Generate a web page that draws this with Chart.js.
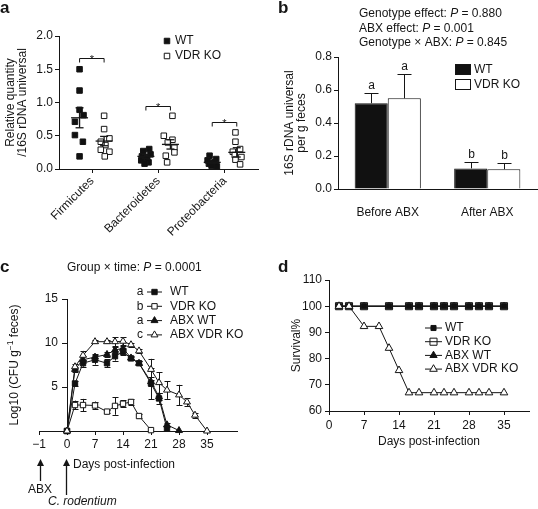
<!DOCTYPE html>
<html>
<head>
<meta charset="utf-8">
<title>Figure</title>
<script src="https://cdn.jsdelivr.net/npm/chart.js@4.4.1/dist/chart.umd.min.js"></script>
<style>
html,body{margin:0;padding:0;background:#fff;}
#wrap{position:relative;width:538px;height:509px;overflow:hidden;background:#fff;}
#wrap canvas{position:absolute;display:block;}
</style>
</head>
<body>
<div id="wrap">
<canvas id="ca" width="269" height="250" style="left:0;top:0"></canvas>
<canvas id="cb" width="269" height="250" style="left:269px;top:0"></canvas>
<canvas id="cc" width="269" height="259" style="left:0;top:250px"></canvas>
<canvas id="cd" width="269" height="259" style="left:269px;top:250px"></canvas>
</div>
<script>
// ================= DATA =================
// ---- Panel a : relative quantity / 16S rDNA universal ----
const taxa = ['Firmicutes', 'Bacteroidetes', 'Proteobacteria'];
const aWT = [
  [1.50, 1.18, 0.89, 0.81, 0.71, 0.51, 0.41, 0.19],
  [0.30, 0.27, 0.22, 0.19, 0.16, 0.13, 0.10, 0.08],
  [0.20, 0.15, 0.13, 0.10, 0.08, 0.06, 0.05, 0.04]
];
const aWTjitter = [
  [0, 0, 0, 0.06, -0.07, -0.07, 0.05, 0],
  [0.05, -0.04, 0.07, -0.06, 0.02, -0.07, 0.04, -0.02],
  [-0.04, 0.06, -0.07, 0.03, -0.05, 0.05, -0.01, 0.07]
];
const aKO = [
  [0.80, 0.60, 0.46, 0.41, 0.36, 0.29, 0.26, 0.19],
  [0.80, 0.50, 0.44, 0.40, 0.32, 0.25, 0.20, 0.10],
  [0.55, 0.41, 0.30, 0.26, 0.21, 0.18, 0.14, 0.07]
];
const aKOjitter = [
  [0, 0, 0.08, -0.05, 0.02, -0.05, 0.08, 0.01],
  [0.03, -0.1, 0.03, -0.04, 0.06, 0.06, -0.07, -0.05],
  [-0.02, -0.02, 0.05, -0.06, -0.03, 0.07, -0.02, 0.05]
];
const aMeanWT = [0.77, 0.19, 0.10];
const aSemWT = [0.15, 0.03, 0.02];
const aMeanKO = [0.42, 0.37, 0.25];
const aSemKO = [0.07, 0.07, 0.07];
const aSigY = [1.67, 0.94, 0.70];
const aYTicks = [0, 0.5, 1.0, 1.5, 2.0];

// ---- Panel b : 16S rDNA universal per g feces ----
const bGroups = ['Before ABX', 'After ABX'];
const bWT = [0.52, 0.125];
const bWTerr = [0.06, 0.04];
const bKO = [0.55, 0.12];
const bKOerr = [0.15, 0.035];
const bWTletters = ['a', 'b'];
const bKOletters = ['a', 'b'];
const bStats = [['Genotype effect: ', '0.880'], ['ABX effect: ', '0.001'], ['Genotype \u00d7 ABX: ', '0.845']];
const bYTicks = [0, 0.2, 0.4, 0.6, 0.8];

// ---- Panel c : Log10 CFU per g feces ----
const cDayTicks = [-7, 0, 7, 14, 21, 28, 35];          // -7 is the broken-axis slot of day -1
const cDayTickLabels = ['\u22121', '0', '7', '14', '21', '28', '35'];
const cYTicks = [5, 10, 15];
const cDaysWT = [0, 2, 4, 7, 10, 12, 14, 16, 18, 21, 23, 25];
const cWT = [0, 5.4, 7.7, 8.1, 7.7, 8.5, 9.0, 8.25, 7.7, 5.4, 3.7, 0.25];
const cWTerr = [0, 0.3, 0.4, 0.55, 0.45, 0.5, 0.4, 0.2, 0.2, 1.8, 0.6, 0];
const cDaysKO = [0, 2, 4, 7, 10, 12, 14, 16, 18, 21];
const cKO = [0, 2.95, 2.95, 2.9, 2.2, 2.85, 3.1, 3.3, 1.7, 0.1];
const cKOerr = [0, 0.5, 0.7, 0.45, 0.2, 1.0, 0.4, 0.3, 0.2, 0];
const cDaysAbxWT = [0, 2, 4, 7, 10, 12, 14, 16, 18, 21, 23, 25, 28];
const cAbxWT = [0, 7.0, 8.1, 8.4, 8.7, 9.2, 9.4, 8.3, 7.7, 5.6, 3.9, 0.7, 0.05];
const cAbxWTerr = [0, 0.3, 0.4, 0.3, 0.3, 0.3, 0.3, 0.2, 0.2, 0.5, 0.4, 0.2, 0];
const cDaysAbxKO = [0, 2, 4, 7, 10, 12, 14, 16, 18, 21, 23, 25, 28, 30, 32, 35];
const cAbxKO = [0, 7.3, 8.6, 10.15, 10.15, 10.15, 10.2, 9.8, 9.1, 7.0, 5.5, 4.65, 4.1, 3.3, 1.8, 0];
const cAbxKOerr = [0, 0.3, 0.5, 0.2, 0.2, 0.5, 0.45, 0.2, 0.2, 1.2, 1.2, 1.0, 1.15, 0.45, 0.3, 0];
const cLetters = ['a', 'b', 'a', 'c'];

// ---- Panel d : survival ----
const dDayTicks = [0, 7, 14, 21, 28, 35];
const dYTicks = [60, 70, 80, 90, 100, 110];
const dDays = [2, 4, 7, 12, 16, 18, 21, 23, 25, 28, 30, 32, 35];
const dWT = [100, 100, 100, 100, 100, 100, 100, 100, 100, 100, 100, 100, 100];
const dKO = [100, 100, 100, 100, 100, 100, 100, 100, 100, 100, 100, 100, 100];
const dAbxWT = [100, 100, 100, 100, 100, 100, 100, 100, 100, 100, 100, 100, 100];
const dDaysAbxKO = [2, 4, 7, 10, 12, 14, 16, 18, 21, 23, 25, 28, 30, 32, 35];
const dAbxKO = [100, 100, 92.3, 92.3, 84, 75.5, 67, 67, 67, 67, 67, 67, 67, 67, 67];

const seriesNames = ['WT', 'VDR KO', 'ABX WT', 'ABX VDR KO'];

// ================= STYLE / HELPERS =================
const FONT = "'Liberation Sans', Arial, Helvetica, sans-serif";
const INK = '#151515';
Chart.defaults.font.family = FONT;
Chart.defaults.font.size = 12;
Chart.defaults.color = INK;
Chart.defaults.borderColor = INK;
Chart.defaults.animation = false;
Chart.defaults.responsive = false;
Chart.defaults.events = [];
Chart.defaults.plugins.legend.display = false;
Chart.defaults.plugins.tooltip.enabled = false;

function fontStr(size, italic, bold) {
  return (italic ? 'italic ' : '') + (bold ? 'bold ' : '') + size + 'px ' + FONT;
}
function txt(ctx, s, x, y, o) {
  o = o || {};
  ctx.save();
  ctx.font = fontStr(o.size || 12, o.italic, o.bold);
  ctx.fillStyle = INK;
  ctx.textAlign = o.align || 'left';
  ctx.textBaseline = o.baseline || 'middle';
  ctx.fillText(s, x, y);
  ctx.restore();
}
// parts: [[text, italic], ...] drawn left to right starting at x
function runs(ctx, parts, x, y, align) {
  ctx.save();
  ctx.fillStyle = INK;
  ctx.textBaseline = 'middle';
  ctx.textAlign = 'left';
  let total = 0;
  parts.forEach(p => { ctx.font = fontStr(12, p[1]); total += ctx.measureText(p[0]).width; });
  let cx = align === 'center' ? x - total / 2 : x;
  parts.forEach(p => { ctx.font = fontStr(12, p[1]); ctx.fillText(p[0], cx, y); cx += ctx.measureText(p[0]).width; });
  ctx.restore();
}
function seg(ctx, x1, y1, x2, y2) {
  ctx.beginPath(); ctx.moveTo(x1, y1); ctx.lineTo(x2, y2); ctx.stroke();
}
function marker(ctx, style, x, y, r, fill) {
  ctx.save();
  ctx.beginPath();
  if (style === 'rect') {
    const s = r * Math.SQRT1_2;
    ctx.rect(x - s, y - s, 2 * s, 2 * s);
  } else {
    for (let k = 0; k < 3; k++) {
      const a = k * 2 * Math.PI / 3;
      const px = x + Math.sin(a) * r, py = y - Math.cos(a) * r;
      if (k) ctx.lineTo(px, py); else ctx.moveTo(px, py);
    }
    ctx.closePath();
  }
  ctx.fillStyle = fill; ctx.fill();
  ctx.strokeStyle = INK; ctx.lineWidth = 1; ctx.stroke();
  ctx.restore();
}
function panelLetter(ctx, s, x, y) {
  txt(ctx, s, x, y, { size: 17, bold: true, baseline: 'alphabetic' });
}
const gridStyle = (len) => ({ drawOnChartArea: false, color: INK, tickColor: INK, tickLength: len, lineWidth: 1 });
const borderStyle = { color: INK, width: 1 };
const setTicks = (arr) => (s) => { s.ticks = arr.map(v => ({ value: v })); };

// ================= PANEL a =================
const A_WT_OFF = -0.19, A_KO_OFF = 0.18;
function scatterPoints(groups, jit, off) {
  const pts = [];
  groups.forEach((vals, i) => vals.forEach((v, j) => pts.push({ x: i + off + jit[i][j], y: v })));
  return pts;
}
const aPlugin = {
  id: 'aExtras',
  afterDatasetsDraw(chart) {
    const { ctx, scales: { x, y } } = chart;
    ctx.save();
    ctx.strokeStyle = INK;
    ctx.lineWidth = 1.3;
    [[aMeanWT, aSemWT, A_WT_OFF], [aMeanKO, aSemKO, A_KO_OFF]].forEach(([m, s, off]) => {
      m.forEach((v, i) => {
        const cx = x.getPixelForValue(i + off);
        const ym = y.getPixelForValue(v), yt = y.getPixelForValue(v + s[i]), yb = y.getPixelForValue(v - s[i]);
        seg(ctx, cx - 8.5, ym, cx + 8.5, ym);
        seg(ctx, cx, yt, cx, yb);
        seg(ctx, cx - 4, yt, cx + 4, yt);
        seg(ctx, cx - 4, yb, cx + 4, yb);
      });
    });
    ctx.lineWidth = 1;
    aSigY.forEach((v, i) => {
      const x1 = x.getPixelForValue(i + A_WT_OFF), x2 = x.getPixelForValue(i + A_KO_OFF);
      const yy = Math.round(y.getPixelForValue(v)) + 0.5;
      ctx.beginPath(); ctx.moveTo(x1, yy + 4); ctx.lineTo(x1, yy); ctx.lineTo(x2, yy); ctx.lineTo(x2, yy + 4); ctx.stroke();
      txt(ctx, '*', (x1 + x2) / 2, yy + 4, { align: 'center', baseline: 'alphabetic', size: 11 });
    });
    ctx.restore();
  },
  afterDraw(chart) {
    const ctx = chart.ctx;
    marker(ctx, 'rect', 167, 41, 3.9, '#111');
    txt(ctx, seriesNames[0], 175, 41);
    marker(ctx, 'rect', 167, 56, 3.9, '#fff');
    txt(ctx, seriesNames[1], 175, 56);
    panelLetter(ctx, 'a', 0, 13);
  }
};
new Chart(document.getElementById('ca'), {
  type: 'scatter',
  data: {
    datasets: [
      { label: 'WT', data: scatterPoints(aWT, aWTjitter, A_WT_OFF), pointStyle: 'rect', pointRadius: 3.9,
        backgroundColor: '#111', borderColor: INK, borderWidth: 1 },
      { label: 'VDR KO', data: scatterPoints(aKO, aKOjitter, A_KO_OFF), pointStyle: 'rect', pointRadius: 3.9,
        backgroundColor: '#fff', borderColor: INK, borderWidth: 1 }
    ]
  },
  options: {
    layout: { padding: { top: 36, right: 11, left: 0, bottom: 0 } },
    scales: {
      x: {
        type: 'linear', min: -0.5, max: 2.5,
        afterBuildTicks: setTicks(taxa.map((_, i) => i)),
        afterFit: s => { s.height = 81; },
        grid: gridStyle(4), border: borderStyle,
        ticks: { callback: v => taxa[v], minRotation: 45, maxRotation: 45, padding: 1, color: INK }
      },
      y: {
        min: 0, max: 2,
        afterBuildTicks: setTicks(aYTicks),
        afterFit: s => { s.width = 59; },
        grid: gridStyle(4), border: borderStyle,
        ticks: { callback: v => v.toFixed(1), padding: 2, color: INK },
        title: { display: true, text: ['Relative quantity', '/16S rDNA universal'], color: INK,
                 font: { size: 12, lineHeight: 1.05 }, padding: { top: 4, bottom: 0 } }
      }
    }
  },
  plugins: [aPlugin]
});

// ================= PANEL b =================
const bPlugin = {
  id: 'bExtras',
  afterDatasetsDraw(chart) {
    const { ctx, scales: { y } } = chart;
    ctx.save();
    ctx.strokeStyle = INK; ctx.lineWidth = 1;
    [[bWTerr, bWTletters], [bKOerr, bKOletters]].forEach(([errs, letters], di) => {
      const meta = chart.getDatasetMeta(di);
      meta.data.forEach((bar, i) => {
        const v = chart.data.datasets[di].data[i];
        const yt = Math.round(y.getPixelForValue(v + errs[i])) + 0.5;
        const cx = Math.round(bar.x) + 0.5;
        seg(ctx, cx, bar.y, cx, yt);
        seg(ctx, cx - 7, yt, cx + 7, yt);
        txt(ctx, letters[i], cx, yt - 5, { align: 'center', baseline: 'alphabetic' });
      });
    });
    ctx.restore();
  },
  afterDraw(chart) {
    const ctx = chart.ctx;
    ctx.save();
    ctx.strokeStyle = INK; ctx.lineWidth = 1;
    ctx.fillStyle = '#111'; ctx.fillRect(186, 64, 16, 11); ctx.strokeRect(186.5, 64.5, 15, 10);
    ctx.fillStyle = '#fff'; ctx.fillRect(186, 79, 16, 11); ctx.strokeRect(186.5, 79.5, 15, 10);
    ctx.restore();
    txt(ctx, seriesNames[0], 205, 70);
    txt(ctx, seriesNames[1], 205, 85);
    bStats.forEach((p, i) => runs(ctx, [[p[0], false], ['P', true], [' = ' + p[1], false]], 90, 14 + i * 14.5, 'left'));
    panelLetter(ctx, 'b', 9, 13);
  }
};
new Chart(document.getElementById('cb'), {
  type: 'bar',
  data: {
    labels: bGroups,
    datasets: [
      { label: 'WT', data: bWT, backgroundColor: '#111', borderColor: INK, borderWidth: 1,
        categoryPercentage: 0.665, barPercentage: 1 },
      { label: 'VDR KO', data: bKO, backgroundColor: '#fff', borderColor: INK, borderWidth: 1,
        categoryPercentage: 0.665, barPercentage: 1 }
    ]
  },
  options: {
    layout: { padding: { top: 57, right: 1, left: 0, bottom: 0 } },
    scales: {
      x: {
        grid: { display: false }, border: borderStyle,
        ticks: { padding: 8, color: INK },
        afterFit: s => { s.height = 61; }
      },
      y: {
        min: 0, max: 0.8,
        afterBuildTicks: setTicks(bYTicks),
        afterFit: s => { s.width = 69; },
        grid: gridStyle(4), border: borderStyle,
        ticks: { callback: v => v.toFixed(1), padding: 2, color: INK },
        title: { display: true, text: ['16S rDNA universal', 'per g feces'], color: INK,
                 font: { size: 12, lineHeight: 1.05 }, padding: { top: 14, bottom: 0 } }
      }
    }
  },
  plugins: [bPlugin]
});

// ================= PANEL c =================
function lineSet(label, xs, ys, errs, style, fill, r, order) {
  return {
    label, data: xs.map((d, i) => ({ x: d, y: ys[i] })), errs,
    borderColor: INK, borderWidth: 1, tension: 0, clip: false, order,
    pointStyle: style, pointRadius: r, pointBackgroundColor: fill, pointBorderColor: INK, pointBorderWidth: 1
  };
}
const cStyles = [['rect', '#111', 3.8], ['rect', '#fff', 3.8], ['triangle', '#111', 4], ['triangle', '#fff', 4]];
const cPlugin = {
  id: 'cExtras',
  beforeDatasetsDraw(chart) {
    const { ctx, scales: { y } } = chart;
    ctx.save();
    ctx.strokeStyle = INK; ctx.lineWidth = 1;
    chart.data.datasets.forEach((ds, di) => {
      const meta = chart.getDatasetMeta(di);
      meta.data.forEach((pt, i) => {
        const e = ds.errs[i];
        if (!e) return;
        const v = ds.data[i].y;
        const yt = y.getPixelForValue(v + e), yb = y.getPixelForValue(Math.max(0, v - e));
        const cx = Math.round(pt.x) + 0.5;
        seg(ctx, cx, yt, cx, yb);
        seg(ctx, cx - 3, Math.round(yt) + 0.5, cx + 3, Math.round(yt) + 0.5);
        seg(ctx, cx - 3, Math.round(yb) + 0.5, cx + 3, Math.round(yb) + 0.5);
      });
    });
    ctx.restore();
  },
  afterDraw(chart) {
    const { ctx, scales: { x, y } } = chart;
    const axisX = x.getPixelForValue(0);
    // y tick labels next to the (shifted) y axis
    y.ticks.forEach(t => txt(ctx, String(t.value), axisX - 9, y.getPixelForValue(t.value), { align: 'right' }));
    // y title with superscript
    ctx.save();
    const midY = (chart.chartArea.top + chart.chartArea.bottom) / 2;
    ctx.translate(15, midY);
    ctx.rotate(-Math.PI / 2);
    ctx.fillStyle = INK; ctx.textBaseline = 'middle'; ctx.textAlign = 'left';
    const parts = [['Log10 (CFU g', 12, 0], ['\u22121', 8.5, -4], [' feces)', 12, 0]];
    let w = 0;
    parts.forEach(p => { ctx.font = fontStr(p[1]); w += ctx.measureText(p[0]).width; });
    let cx = -w / 2;
    parts.forEach(p => { ctx.font = fontStr(p[1]); ctx.fillText(p[0], cx, p[2]); cx += ctx.measureText(p[0]).width; });
    ctx.restore();
    // legend
    seriesNames.forEach((n, i) => {
      const yy = 42 + i * 14.3;
      txt(ctx, cLetters[i], 140, yy, { align: 'center' });
      ctx.save(); ctx.strokeStyle = INK; ctx.lineWidth = 1; seg(ctx, 147, yy, 162, yy); ctx.restore();
      marker(ctx, cStyles[i][0], 154.5, yy, cStyles[i][2], cStyles[i][1]);
      txt(ctx, n, 170, yy);
    });
    // title
    runs(ctx, [['Group \u00d7 time: ', false], ['P', true], [' = 0.0001', false]], 67, 18, 'left');
    // arrows for ABX and C. rodentium
    const xA = Math.round(x.getPixelForValue(cDayTicks[0])) + 1.5;
    const xC = Math.round(axisX) - 0.5;
    ctx.save();
    ctx.strokeStyle = INK; ctx.fillStyle = INK; ctx.lineWidth = 1.3;
    seg(ctx, xA, 214, xA, 231);
    ctx.beginPath(); ctx.moveTo(xA, 209); ctx.lineTo(xA - 3.5, 216); ctx.lineTo(xA + 3.5, 216); ctx.closePath(); ctx.fill();
    seg(ctx, xC, 214, xC, 245);
    ctx.beginPath(); ctx.moveTo(xC, 209); ctx.lineTo(xC - 3.5, 216); ctx.lineTo(xC + 3.5, 216); ctx.closePath(); ctx.fill();
    ctx.restore();
    txt(ctx, 'Days post-infection', 73, 215);
    txt(ctx, 'ABX', 40, 240, { align: 'center' });
    txt(ctx, 'C. rodentium', 48, 252, { italic: true });
    panelLetter(ctx, 'c', 0, 22);
  }
};
new Chart(document.getElementById('cc'), {
  type: 'line',
  data: {
    datasets: [
      lineSet('WT', cDaysWT, cWT, cWTerr, 'rect', '#111', 3.8, 2),
      lineSet('VDR KO', cDaysKO, cKO, cKOerr, 'rect', '#fff', 3.8, 3),
      lineSet('ABX WT', cDaysAbxWT, cAbxWT, cAbxWTerr, 'triangle', '#111', 4, 1),
      lineSet('ABX VDR KO', cDaysAbxKO, cAbxKO, cAbxKOerr, 'triangle', '#fff', 4, 0)
    ]
  },
  options: {
    layout: { padding: { top: 49, right: 32, left: 39, bottom: 0 } },
    scales: {
      x: {
        type: 'linear', min: -7, max: 42.5,
        afterBuildTicks: setTicks(cDayTicks),
        afterFit: s => { s.height = 78; },
        grid: gridStyle(4), border: borderStyle,
        ticks: { callback: (v, i) => cDayTickLabels[i], padding: 2, color: INK }
      },
      y: {
        position: { x: 0 },
        min: 0, max: 15,
        afterBuildTicks: setTicks(cYTicks),
        grid: gridStyle(5), border: borderStyle,
        ticks: { display: false }
      }
    }
  },
  plugins: [cPlugin]
});

// ================= PANEL d =================
const dStyles = [['rect', '#111', 3.6], ['rect', '#fff', 5], ['triangle', '#111', 4.2], ['triangle', '#fff', 4.4]];
const dPlugin = {
  id: 'dExtras',
  afterDraw(chart) {
    const ctx = chart.ctx;
    seriesNames.forEach((n, i) => {
      const yy = 78 + i * 13.7;
      ctx.save(); ctx.strokeStyle = INK; ctx.lineWidth = 1; seg(ctx, 156, yy, 173, yy); ctx.restore();
      if (i === 1) {
        marker(ctx, 'rect', 164.5, yy, 5, '#fff');
        ctx.save(); ctx.strokeStyle = INK; seg(ctx, 161, yy, 168, yy); ctx.restore();
      } else {
        marker(ctx, dStyles[i][0], 164.5, yy, dStyles[i][2], dStyles[i][1]);
      }
      txt(ctx, n, 176, yy);
    });
    panelLetter(ctx, 'd', 9, 22);
  }
};
new Chart(document.getElementById('cd'), {
  type: 'line',
  data: {
    datasets: [
      lineSet('WT', dDays, dWT, [], 'rect', '#111', 3.6, 1),
      lineSet('VDR KO', dDays, dKO, [], 'rect', '#8f8f8f', 5, 2),
      lineSet('ABX WT', dDays, dAbxWT, [], 'triangle', '#111', 4.2, 3),
      lineSet('ABX VDR KO', dDaysAbxKO, dAbxKO, [], 'triangle', '#fff', 4.4, 0)
    ]
  },
  options: {
    layout: { padding: { top: 30, right: 9, left: 0, bottom: 0 } },
    scales: {
      x: {
        type: 'linear', min: 0, max: 40,
        afterBuildTicks: setTicks(dDayTicks),
        afterFit: s => { s.height = 98; },
        grid: gridStyle(4), border: borderStyle,
        ticks: { padding: 3, color: INK },
        title: { display: true, text: 'Days post-infection', color: INK, font: { size: 12 }, padding: { top: 0, bottom: 60 } }
      },
      y: {
        min: 60, max: 110,
        afterBuildTicks: setTicks(dYTicks),
        afterFit: s => { s.width = 60; },
        grid: gridStyle(4), border: borderStyle,
        ticks: { padding: 3, color: INK },
        title: { display: true, text: 'Survival%', color: INK, font: { size: 12 }, padding: { top: 20, bottom: 0 } }
      }
    }
  },
  plugins: [dPlugin]
});
</script>
</body>
</html>
